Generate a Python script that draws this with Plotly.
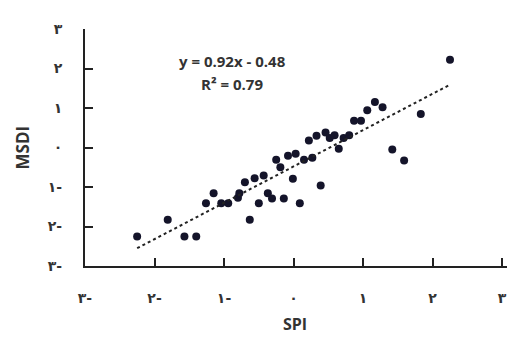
import plotly.graph_objects as go

spi = [-2.25, -1.81, -1.57, -1.40, -1.26, -1.15, -1.04, -0.94, -0.80, -0.78,
       -0.70, -0.63, -0.56, -0.50, -0.43, -0.37, -0.31, -0.25, -0.19, -0.14,
       -0.08, -0.01, 0.03, 0.09, 0.15, 0.22, 0.27, 0.33, 0.39, 0.46,
       0.52, 0.59, 0.65, 0.72, 0.80, 0.87, 0.97, 1.06, 1.17, 1.28,
       1.42, 1.59, 1.83, 2.25]
msdi = [-2.25, -1.83, -2.25, -2.25, -1.41, -1.16, -1.41, -1.41, -1.27, -1.16,
        -0.88, -1.83, -0.78, -1.41, -0.71, -1.16, -1.29, -0.31, -0.50, -1.29,
        -0.21, -0.79, -0.16, -1.41, -0.31, 0.18, -0.26, 0.30, -0.96, 0.38,
        0.24, 0.31, -0.03, 0.24, 0.31, 0.68, 0.68, 0.94, 1.15, 1.02,
        -0.05, -0.33, 0.85, 2.22]

slope = 0.92
intercept = -0.48
r2 = 0.79

tick_vals = [-3, -2, -1, 0, 1, 2, 3]
tick_text = ["۳-", "۲-", "۱-", "۰", "۱", "۲", "۳"]

x_line = [min(spi), max(spi)]
y_line = [slope * v + intercept for v in x_line]

fig = go.Figure()
fig.add_trace(go.Scatter(x=spi, y=msdi, mode="markers",
                         marker=dict(size=8, color="#14142a"),
                         showlegend=False))
fig.add_trace(go.Scatter(x=x_line, y=y_line, mode="lines",
                         line=dict(color="#222222", width=2, dash="dot"),
                         showlegend=False))

text_font = dict(family="Open Sans", size=15, color="#333333", weight="bold")
tick_font = dict(family="DejaVu Sans", size=14, color="#333333", weight="bold")

L, W, T, H = 85, 422, 29, 237

fig.update_layout(
    width=507, height=338,
    margin=dict(l=L, r=507 - L - W, t=T, b=338 - T - H),
    paper_bgcolor="white", plot_bgcolor="white",
    xaxis=dict(range=[-3, 3.07], tickvals=tick_vals, ticktext=tick_text,
               showgrid=False, zeroline=False, showline=True,
               linecolor="#222222", linewidth=2,
               ticks="inside", ticklen=8, tickcolor="#222222", tickwidth=1.5,
               tickfont=tick_font, ticklabelstandoff=18,
               ticklabeloverflow="allow"),
    yaxis=dict(range=[-3, 3], tickvals=tick_vals, ticktext=tick_text,
               showgrid=False, zeroline=False, showline=True,
               linecolor="#222222", linewidth=2,
               ticks="inside", ticklen=8, tickcolor="#222222", tickwidth=1.5,
               tickfont=tick_font, ticklabelstandoff=18),
    annotations=[
        dict(text=f"y = {slope}x - {abs(intercept)}", xref="paper", yref="paper",
             x=(232 - L) / W, y=(T + H - 61) / H, showarrow=False,
             xanchor="center", yanchor="middle", font=text_font),
        dict(text=f"R² = {r2}", xref="paper", yref="paper",
             x=(232 - L) / W, y=(T + H - 84) / H, showarrow=False,
             xanchor="center", yanchor="middle", font=text_font),
        dict(text="MSDI", xref="paper", yref="paper",
             x=(22 - L) / W, y=0.5, showarrow=False, textangle=-90,
             xanchor="center", yanchor="middle",
             font=dict(family="Open Sans", size=17, color="#333333", weight="bold")),
        dict(text="SPI", xref="paper", yref="paper",
             x=(295 - L) / W, y=(T + H - 324) / H, showarrow=False,
             xanchor="center", yanchor="middle",
             font=dict(family="Open Sans", size=16, color="#333333", weight="bold")),
    ],
)

fig.write_html("out.html")
